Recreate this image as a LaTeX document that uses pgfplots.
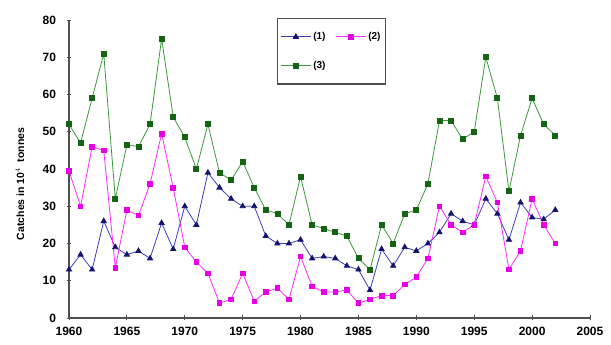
\documentclass[border=0pt]{standalone}
\usepackage{pgfplots}
\pgfplotsset{compat=1.18}
\usepackage{fontspec}
\setmainfont{Liberation Sans}
\definecolor{navyM}{RGB}{20,20,110}
\definecolor{blueL}{RGB}{60,60,190}
\definecolor{magL}{RGB}{255,40,255}
\definecolor{magM}{RGB}{230,0,230}
\definecolor{greenL}{RGB}{60,150,60}
\definecolor{greenM}{RGB}{20,100,20}
\definecolor{axgray}{RGB}{80,80,80}
\begin{document}
\begin{tikzpicture}
\begin{axis}[
  at={(0pt,0pt)}, anchor=origin,
  scale only axis, width=521pt, height=298pt,
  xmin=1960, xmax=2005, ymin=0, ymax=80,
  axis x line=bottom, axis y line=left,
  axis line style={-, axgray, line width=1.8pt},
  xtick={1960,1965,...,2005}, ytick={0,10,...,80},
  tick align=center, major tick length=5pt,
  tick style={axgray, line width=0.8pt},
  x tick label style={/pgf/number format/1000 sep={}, yshift=-3pt},
  y tick label style={xshift=-7pt},
  tick label style={font=\fontsize{12}{13}\selectfont\bfseries},
  /pgf/number format/assume math mode=true,
  ylabel={Catches in 10$^{4}$ \ tonnes},
  every axis y label/.style={at={(axis description cs:0,0.45)}, xshift=-49pt, rotate=90, anchor=center, font=\fontsize{10.5}{12}\selectfont\bfseries},
  legend columns=2,
  legend cell align=left,
  legend style={at={(axis description cs:0.399,1.007)}, anchor=north west,
    draw=axgray, line width=1.2pt, font=\fontsize{10}{12}\selectfont\bfseries,
    inner xsep=3pt, inner ysep=12pt, row sep=16pt,
    /tikz/every even column/.append style={column sep=8pt}},
  legend image code/.code={\draw[mark repeat=2,mark phase=2,line width=0.8pt] plot coordinates {(0pt,0pt)(15pt,0pt)(30pt,0pt)};},
]
\addplot[blueL, line width=0.8pt, mark=triangle*, mark size=3pt, mark options={navyM, fill=navyM}] coordinates {
(1960,13)(1961,17)(1962,13)(1963,26)(1964,19)(1965,17)(1966,18)(1967,16)(1968,25.5)(1969,18.5)
(1970,30)(1971,25)(1972,39)(1973,35)(1974,32)(1975,30)(1976,30)(1977,22)(1978,20)(1979,20)
(1980,21)(1981,16)(1982,16.5)(1983,16)(1984,14)(1985,13)(1986,7.5)(1987,18.5)(1988,14)(1989,19)
(1990,18)(1991,20)(1992,23)(1993,28)(1994,26)(1995,25)(1996,32)(1997,28)(1998,21)(1999,31)
(2000,27)(2001,26.5)(2002,29)};
\addlegendentry{(1)}
\addplot[magL, line width=0.8pt, mark=square*, mark size=2.3pt, mark options={magM, fill=magM}] coordinates {
(1960,39.5)(1961,30)(1962,46)(1963,45)(1964,13.5)(1965,29)(1966,27.5)(1967,36)(1968,49.5)(1969,35)
(1970,19)(1971,15)(1972,12)(1973,4)(1974,5)(1975,12)(1976,4.5)(1977,7)(1978,8)(1979,5)
(1980,16.5)(1981,8.5)(1982,7)(1983,7)(1984,7.5)(1985,4)(1986,5)(1987,6)(1988,6)(1989,9)
(1990,11)(1991,16)(1992,30)(1993,25)(1994,23)(1995,25)(1996,38)(1997,31)(1998,13)(1999,18)
(2000,32)(2001,25)(2002,20)};
\addlegendentry{(2)}
\addplot[greenL, line width=0.8pt, mark=square*, mark size=2.5pt, mark options={greenM, fill=greenM}] coordinates {
(1960,52)(1961,47)(1962,59)(1963,71)(1964,32)(1965,46.5)(1966,46)(1967,52)(1968,75)(1969,54)
(1970,48.5)(1971,40)(1972,52)(1973,39)(1974,37)(1975,42)(1976,35)(1977,29)(1978,28)(1979,25)
(1980,38)(1981,25)(1982,24)(1983,23)(1984,22)(1985,16)(1986,13)(1987,25)(1988,20)(1989,28)
(1990,29)(1991,36)(1992,53)(1993,53)(1994,48)(1995,50)(1996,70)(1997,59)(1998,34)(1999,49)
(2000,59)(2001,52)(2002,49)};
\addlegendentry{(3)}
\end{axis}
\pgfresetboundingbox
\path[use as bounding box] (-69pt,-27pt) rectangle (542pt,318pt);
\end{tikzpicture}
\end{document}
